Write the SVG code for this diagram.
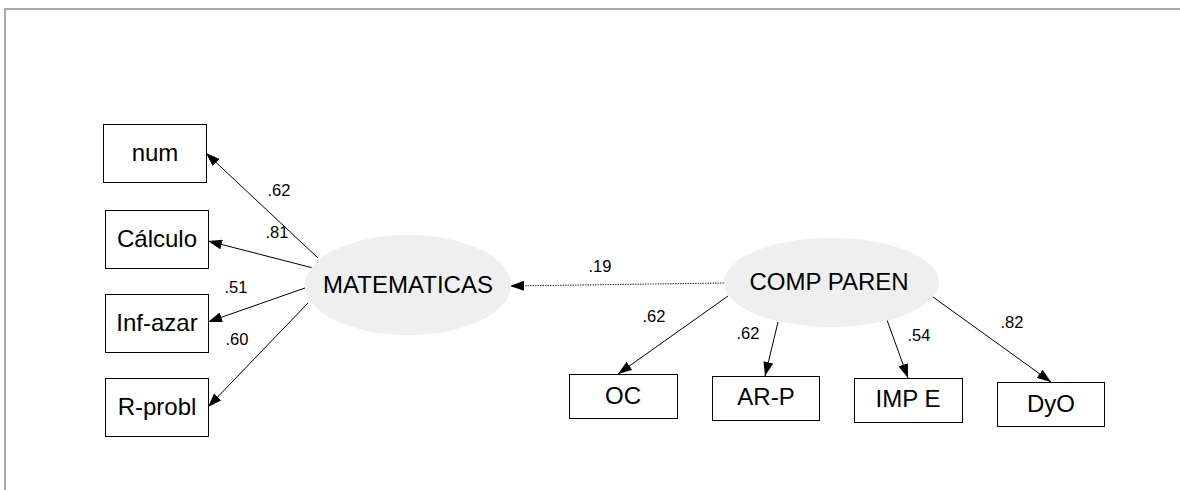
<svg xmlns="http://www.w3.org/2000/svg" width="1180" height="490" viewBox="0 0 1180 490">
<defs>
<style>
.box{fill:#fff;stroke:#000;stroke-width:1}
.lat{fill:#efefef;stroke:none}
.t{font-family:"Liberation Sans",Arial,sans-serif;font-size:24px;fill:#000;text-anchor:middle}
.n{font-family:"Liberation Sans",Arial,sans-serif;font-size:16.5px;fill:#000;text-anchor:middle}
.e{stroke:#000;stroke-width:1;fill:none;marker-end:url(#ah)}
.d{stroke:#333;stroke-width:1;fill:none;stroke-dasharray:1.5 1;marker-end:url(#ah)}
</style>
<marker id="ah" markerWidth="14" markerHeight="10" refX="14" refY="5" orient="auto" markerUnits="userSpaceOnUse">
<path d="M0,0 L14,5 L0,10 z" fill="#000"/>
</marker>
</defs>
<rect width="1180" height="490" fill="#fff"/>
<path d="M5,490 V9 H1180" fill="none" stroke="#a9a9a9" stroke-width="2"/>

<g id="connectors">
<line class="e" x1="318" y1="258" x2="206" y2="153"/>
<line class="e" x1="317" y1="269" x2="208" y2="241"/>
<line class="e" x1="305" y1="288" x2="208" y2="322"/>
<line class="e" x1="308" y1="303" x2="208" y2="407"/>
<line class="d" x1="724" y1="283" x2="510" y2="286"/>
<line class="e" x1="728" y1="296" x2="618" y2="374"/>
<line class="e" x1="778" y1="322" x2="765" y2="376"/>
<line class="e" x1="887" y1="320" x2="908" y2="378"/>
<line class="e" x1="933" y1="297" x2="1051" y2="382"/>
<text class="n" x="279" y="196">.62</text>
<text class="n" x="277" y="238">.81</text>
<text class="n" x="236" y="293">.51</text>
<text class="n" x="237" y="345">.60</text>
<text class="n" x="600" y="272">.19</text>
<text class="n" x="654" y="322">.62</text>
<text class="n" x="748" y="339">.62</text>
<text class="n" x="919" y="341">.54</text>
<text class="n" x="1012" y="328">.82</text>
</g>

<g id="num"><rect class="box" x="103.5" y="124.5" width="103" height="58"/><text class="t" x="155" y="161">num</text></g>
<g id="calculo"><rect class="box" x="105.5" y="210.5" width="103" height="58"/><text class="t" x="157" y="247">Cálculo</text></g>
<g id="infazar"><rect class="box" x="105.5" y="294.5" width="103" height="58"/><text class="t" x="157" y="331">Inf-azar</text></g>
<g id="rprobl"><rect class="box" x="105.5" y="378.5" width="103" height="58"/><text class="t" x="157" y="415">R-probl</text></g>

<g id="matematicas"><ellipse class="lat" cx="408" cy="285" rx="103" ry="50"/><text class="t" x="408" y="293">MATEMATICAS</text></g>
<g id="compparen"><ellipse class="lat" cx="831.5" cy="282.5" rx="107.5" ry="44.5"/><text class="t" x="829" y="290">COMP PAREN</text></g>

<g id="oc"><rect class="box" x="569.5" y="374.5" width="108" height="44"/><text class="t" x="623" y="404">OC</text></g>
<g id="arp"><rect class="box" x="712.5" y="376.5" width="107" height="44"/><text class="t" x="766" y="405">AR-P</text></g>
<g id="impe"><rect class="box" x="854.5" y="378.5" width="108" height="44"/><text class="t" x="908" y="407">IMP E</text></g>
<g id="dyo"><rect class="box" x="997.5" y="382.5" width="107" height="44"/><text class="t" x="1051" y="412">DyO</text></g>
</svg>
